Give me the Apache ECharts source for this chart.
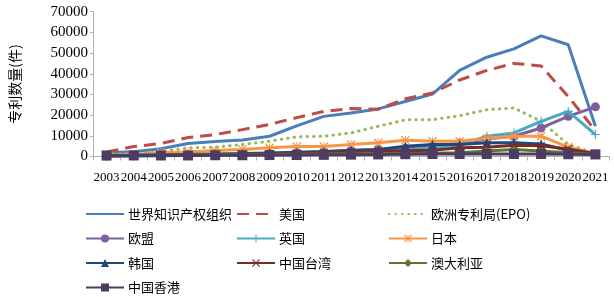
<!DOCTYPE html>
<html>
<head>
<meta charset="utf-8">
<script src="https://cdn.jsdelivr.net/npm/echarts@6/dist/echarts.min.js"></script>
<style>
html, body { margin: 0; padding: 0; background: #fff; }
#chart { width: 614px; height: 297px; }
</style>
</head>
<body>
<div id="chart"></div>
<script>
// 年份
var years = ['2003', '2004', '2005', '2006', '2007', '2008', '2009', '2010', '2011', '2012',
  '2013', '2014', '2015', '2016', '2017', '2018', '2019', '2020', '2021']
var yTicks = [0, 10000, 20000, 30000, 40000, 50000, 60000, 70000]

// 各机构专利数量(件)
var wipo = [1800, 2300, 3700, 6300, 7300, 8000, 9800, 14800, 19400, 21000, 23000, 26600, 30200, 41600, 48000, 52000, 58300, 54000, 14600]
var usa = [2200, 4800, 6300, 9200, 10600, 13000, 15500, 18800, 21800, 23200, 22800, 27900, 30700, 37000, 41600, 45000, 43800, 29000, 12500]
var epo = [1200, 1300, 2200, 4200, 4500, 5800, 7400, 9500, 9800, 11400, 14600, 17700, 17800, 19700, 22600, 23500, 17000, 5800, 1500]
var eu = [300, 400, 500, 700, 900, 1100, 1400, 1800, 2200, 2800, 3300, 4000, 4800, 6500, 8500, 9800, 13800, 19400, 24000]
var uk = [200, 300, 400, 500, 600, 800, 1000, 1300, 1600, 2000, 2400, 3000, 4300, 5600, 9800, 11400, 17000, 21800, 10600]
var japan = [500, 900, 1900, 2200, 2900, 3400, 4200, 4800, 4800, 5800, 6600, 7900, 7400, 7400, 8800, 9800, 9800, 4500, 1500]
var korea = [400, 600, 800, 1000, 1200, 1400, 1700, 2000, 2400, 3000, 3400, 5000, 5800, 5800, 6600, 6600, 6100, 2900, 1300]
var taiwan = [300, 400, 500, 700, 900, 1100, 1300, 1600, 1900, 2300, 2600, 2800, 3000, 4200, 4500, 5400, 5200, 3600, 1300]
var australia = [500, 500, 600, 700, 800, 900, 1000, 1100, 1200, 1300, 1400, 1500, 1600, 1800, 2600, 3400, 2600, 1800, 1000]
var hongkong = [500, 500, 500, 500, 600, 600, 700, 700, 800, 900, 1000, 1100, 1200, 1200, 1200, 1200, 1200, 1100, 1000]

var names = ['世界知识产权组织', '美国', '欧洲专利局(EPO)', '欧盟', '英国', '日本', '韩国', '中国台湾', '澳大利亚', '中国香港']

// 标记形状
var plusPath = 'path://M4.4,0H5.6V4.4H10V5.6H5.6V10H4.4V5.6H0V4.4H4.4Z'
var crossPath = 'path://M0,1L1,0L10,9L9,10Z M9,0L10,1L1,10L0,9Z'
var starPath = 'path://M0,1L1,0L10,9L9,10Z M9,0L10,1L1,10L0,9Z M4.5,0H5.5V10H4.5Z'

var cjk = '"Noto Sans CJK SC", sans-serif'
var serif = '"Liberation Serif", "Times New Roman", serif'

function line (name, data, color, opts) {
  opts = opts || {}
  return {
    name: name,
    type: 'line',
    data: data,
    symbol: opts.symbol || 'none',
    symbolSize: opts.size || 8,
    showSymbol: !!opts.symbol,
    z: opts.z || 2,
    itemStyle: { color: color },
    lineStyle: {
      color: color,
      width: 3,
      type: opts.type || 'solid',
      cap: opts.cap || 'butt'
    },
    emphasis: { disabled: true },
    animation: false
  }
}

// 没有标记的系列，图例里不画圆点
function item (name, noMarker) {
  return noMarker ? { name: name, itemStyle: { opacity: 0 } } : { name: name }
}

function legendCol (left, data) {
  return {
    orient: 'vertical',
    left: left,
    top: 207,
    height: 120,
    padding: 0,
    itemWidth: 38,
    itemHeight: 10,
    itemGap: 10.5,
    data: data,
    selectedMode: false,
    textStyle: { fontFamily: cjk, fontSize: 13, lineHeight: 14, color: '#000', padding: [0, 0, 0, -1] }
  }
}

var chart = echarts.init(document.getElementById('chart'))
var option = {
  backgroundColor: '#fff',
  animation: false,
  grid: { left: 81, right: 5, top: 11.7, bottom: 140.5, containLabel: false },
  legend: [
    legendCol(85, [item(names[0], true), item(names[3]), item(names[6]), item(names[9])]),
    legendCol(236, [item(names[1], true), item(names[4]), item(names[7])]),
    legendCol(388, [item(names[2], true), item(names[5]), item(names[8])])
  ],
  xAxis: {
    type: 'category',
    data: years,
    boundaryGap: true,
    axisLine: { lineStyle: { color: '#b0b0b0', width: 1 } },
    axisTick: { show: true, length: 4, lineStyle: { color: '#b0b0b0' } },
    axisLabel: { interval: 0, margin: 15, fontFamily: serif, fontSize: 13, color: '#000' }
  },
  yAxis: {
    type: 'value',
    min: yTicks[0],
    max: yTicks[yTicks.length - 1],
    interval: 10000,
    name: '专利数量(件)',
    nameLocation: 'middle',
    nameGap: 71,
    nameRotate: 90,
    nameTextStyle: { fontFamily: cjk, fontSize: 14, color: '#000' },
    axisLine: { show: true, lineStyle: { color: '#b0b0b0', width: 1 } },
    axisTick: { show: true, length: 3, inside: false, lineStyle: { color: '#b0b0b0' } },
    splitLine: { show: false },
    axisLabel: {
      margin: 5,
      fontFamily: serif,
      fontSize: 15,
      color: '#000',
      formatter: function (v) { return String(v) }
    }
  },
  series: [
    line(names[0], wipo, '#4A7EBB', { z: 2 }),
    line(names[1], usa, '#BE4B48', { type: [12, 7], z: 3 }),
    line(names[2], epo, '#98B954', { type: [0.5, 6], cap: 'round', z: 4 }),
    line(names[3], eu, '#7D60A0', { symbol: 'circle', size: 9, z: 5 }),
    line(names[4], uk, '#46AAC5', { symbol: plusPath, size: 9, z: 6 }),
    line(names[5], japan, '#F79646', { symbol: starPath, size: 9, z: 7 }),
    line(names[6], korea, '#1F497D', { symbol: 'triangle', size: 9, z: 8 }),
    line(names[7], taiwan, '#772C2A', { symbol: crossPath, size: 8, z: 9 }),
    line(names[8], australia, '#5F7530', { symbol: 'diamond', size: 8, z: 10 }),
    line(names[9], hongkong, '#4D3B62', { symbol: 'rect', size: 10, z: 11 })
  ]
}
chart.setOption(option)
</script>
</body>
</html>
